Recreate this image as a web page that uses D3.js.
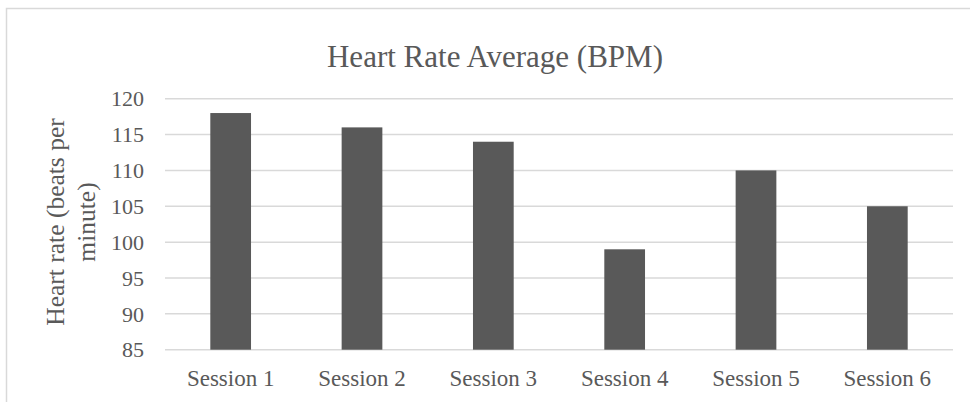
<!DOCTYPE html>
<html>
<head>
    <meta charset="utf-8">
    <script src="https://d3js.org/d3.v7.min.js"></script>
    <style>
        body{
            margin: 0;
            background: #fff;
        }
        svg text{
            font-family: "Liberation Serif", "Times New Roman", serif !important;
            fill: #595959;
        }
    </style>
    <title>Heart Rate Average (BPM)</title>
</head>
<body>
    <div class="chart-wrap"></div>

    <script>
    var sessions = ["Session 1", "Session 2", "Session 3", "Session 4", "Session 5", "Session 6"];
    var heartRate = [118, 116, 114, 99, 110, 105];
    var yTicks = [85, 90, 95, 100, 105, 110, 115, 120];

    var w = 970,
        h = 402;

    var plot = {left: 165, right: 953, top: 98.7, bottom: 349.7};

    var svg = d3.select(".chart-wrap").append("svg")
        .attr("width", w)
        .attr("height", h);

    // chart border (right / bottom edges fall outside the window)
    svg.append("rect")
        .attr("x", 6.5)
        .attr("y", 8.5)
        .attr("width", 990)
        .attr("height", 420)
        .style("fill", "none")
        .style("stroke", "#d9d9d9")
        .style("stroke-width", 1.5);

    var x = d3.scaleBand()
        .domain(sessions)
        .range([plot.left, plot.right])
        .paddingInner(0.69)
        .paddingOuter(0.345);

    var y = d3.scaleLinear()
        .domain([85, 120])
        .range([plot.bottom, plot.top]);

    // gridlines
    svg.append("g")
        .selectAll("line")
        .data(yTicks)
        .enter().append("line")
        .attr("x1", plot.left)
        .attr("x2", plot.right)
        .attr("y1", function (d) { return y(d); })
        .attr("y2", function (d) { return y(d); })
        .style("stroke", "#d9d9d9")
        .style("stroke-width", 1.5);

    // bars
    svg.append("g")
        .selectAll("rect")
        .data(heartRate)
        .enter().append("rect")
        .attr("x", function (d, i) { return x(sessions[i]); })
        .attr("width", x.bandwidth())
        .attr("y", function (d) { return y(d); })
        .attr("height", function (d) { return y(85) - y(d); })
        .style("fill", "#595959");

    // y axis
    var yAxis = svg.append("g")
        .attr("transform", "translate(" + (plot.left - 21) + ",0)")
        .call(d3.axisLeft(y).tickValues(yTicks).tickSize(0).tickPadding(0))
        .attr("font-family", null)
        .attr("font-size", null);
    yAxis.select(".domain").remove();
    yAxis.selectAll("text")
        .attr("dy", "0.33em")
        .style("font-size", "22px");

    // x axis
    var xAxis = svg.append("g")
        .attr("transform", "translate(0," + plot.bottom + ")")
        .call(d3.axisBottom(x).tickSize(0).tickPadding(0))
        .attr("font-family", null)
        .attr("font-size", null);
    xAxis.select(".domain").remove();
    xAxis.selectAll("text")
        .attr("y", 36)
        .attr("dy", 0)
        .style("font-size", "23px");

    // title
    svg.append("text")
        .attr("x", 495)
        .attr("y", 67)
        .attr("text-anchor", "middle")
        .style("font-size", "31px")
        .text("Heart Rate Average (BPM)");

    // y axis title (two lines)
    var yTitle = svg.append("text")
        .attr("transform", "translate(0,222) rotate(-90)")
        .attr("text-anchor", "middle")
        .style("font-size", "25.5px");
    yTitle.append("tspan")
        .attr("x", 0)
        .attr("y", 64)
        .text("Heart rate (beats per");
    yTitle.append("tspan")
        .attr("x", 0)
        .attr("y", 95)
        .text("minute)");
    </script>
</body>
</html>
